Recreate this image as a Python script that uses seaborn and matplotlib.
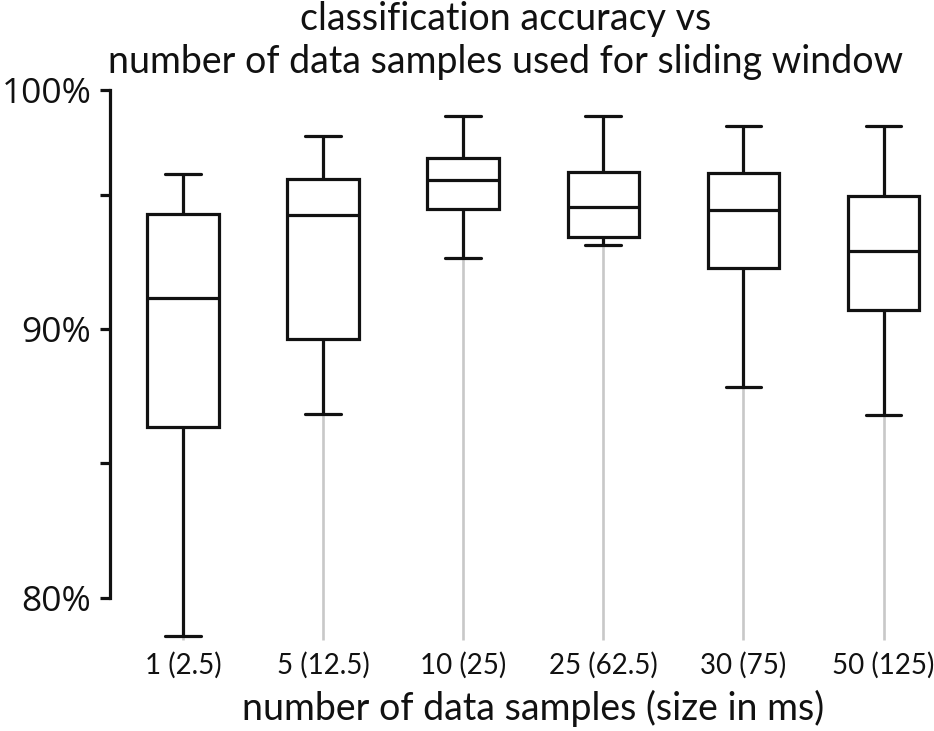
import matplotlib
matplotlib.use('Agg')
import matplotlib.pyplot as plt
import seaborn as sns
import pandas as pd

# five-number summaries (low whisker, Q1, median, Q3, high whisker)
categories = ['1 (2.5)', '5 (12.5)', '10 (25)', '25 (62.5)', '30 (75)', '50 (125)']
whisker_low = [78.59, 86.84, 92.64, 93.12, 87.84, 86.80]
q1 = [86.36, 89.63, 94.46, 93.42, 92.27, 90.71]
median = [91.15, 94.24, 95.54, 94.54, 94.42, 92.90]
q3 = [94.28, 95.58, 96.36, 95.84, 95.80, 94.94]
whisker_high = [95.76, 97.17, 97.92, 97.92, 97.55, 97.55]

ytick_vals = [80, 85, 90, 95, 98.885]
ytick_labels = ['80%', '', '90%', '', '100%']

rows = []
for i, c in enumerate(categories):
    for v in (whisker_low[i], q1[i], median[i], q3[i], whisker_high[i]):
        rows.append({'samples': c, 'acc': v})
df = pd.DataFrame(rows)

sns.set_style('white')
plt.rcParams['font.family'] = ['Lato', 'DejaVu Sans']

fig = plt.figure(figsize=(9.34, 7.31), dpi=100)
ax = fig.add_axes([110 / 934, 1 - 648 / 731, 1 - 110 / 934, (648 - 90) / 731])

lw = 2.3
ink = '#111111'

# gray guide lines under each box, from the bottom up to the low whisker
ax.vlines(range(len(categories)), 78.45, whisker_low, color='#c8c8c8', lw=1.9, zorder=0)

sns.boxplot(data=df, x='samples', y='acc', order=categories, ax=ax,
            whis=(0, 100), width=0.51, fliersize=0,
            boxprops=dict(facecolor='white', edgecolor=ink, linewidth=lw),
            medianprops=dict(color=ink, linewidth=lw),
            whiskerprops=dict(color=ink, linewidth=lw),
            capprops=dict(color=ink, linewidth=lw),
            zorder=2)

ax.set_xlim(-0.52, 5.36)
ax.set_ylim(78.141, 98.885)

for s in ['top', 'right', 'bottom']:
    ax.spines[s].set_visible(False)
ax.spines['left'].set_bounds(80, 98.885)
ax.spines['left'].set_linewidth(lw)
ax.spines['left'].set_color(ink)

ax.set_yticks(ytick_vals)
ax.set_yticklabels(ytick_labels, fontsize=25.5, family=['Open Sans', 'DejaVu Sans'], color=ink)
ax.tick_params(axis='y', length=7.5, width=lw, color=ink, pad=6, left=True)
ax.tick_params(axis='x', length=0, pad=3, labelsize=20, labelcolor=ink)

ax.set_xlabel('number of data samples (size in ms)', fontsize=27, color=ink,
              labelpad=8, x=0.513)
ax.set_ylabel('')

fig.text(0.541, 1 - 19 / 731, 'classification accuracy vs', ha='center', va='center',
         fontsize=27, color=ink)
fig.text(0.541, 1 - 62 / 731, 'number of data samples used for sliding window', ha='center',
         va='center', fontsize=27, color=ink)

fig.savefig('out.png', dpi=100)
